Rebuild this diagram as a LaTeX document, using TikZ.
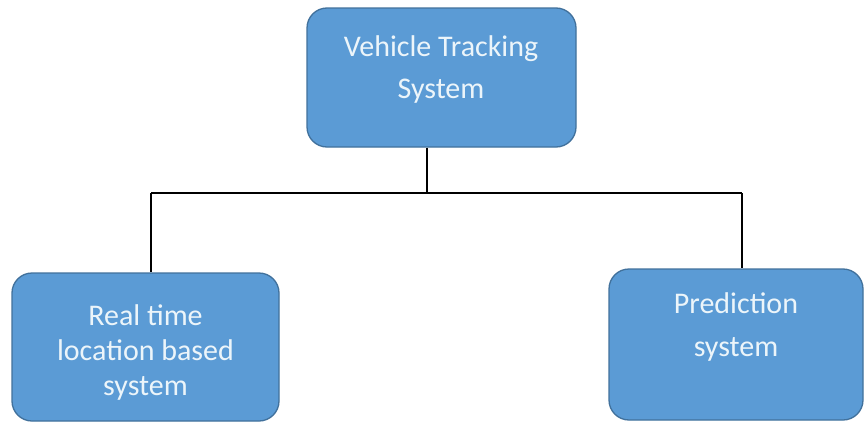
\documentclass[tikz,border=0pt]{standalone}
\usepackage{fontspec}
\setmainfont{Carlito}
\definecolor{boxfill}{RGB}{91,155,213}
\definecolor{boxline}{RGB}{65,113,156}
\definecolor{boxtext}{RGB}{236,245,250}
\begin{document}
\begin{tikzpicture}[x=1pt,y=-1pt,
  box/.style={draw=boxline, line width=1.3pt, fill=boxfill, rounded corners=20pt,
              inner sep=0pt},
  txt/.style={text=boxtext, align=center, inner sep=0pt,
              font=\fontsize{30}{42}\selectfont},
  link/.style={draw=black, line width=1.3pt}]
\useasboundingbox[fill=white] (0,0) rectangle (865,423);

% boxes
\node[box, minimum width=269pt, minimum height=139pt] (top) at (441.5,77.5) {};
\node[box, minimum width=267pt, minimum height=148pt] (left) at (145.5,347) {};
\node[box, minimum width=254pt, minimum height=151pt] (right) at (736,344.5) {};

% labels
\node[txt] (toptxt) at (441,70) {Vehicle Tracking\\System};
\node[txt, font=\fontsize{30}{35}\selectfont] (lefttxt) at (145.5,352) {Real time\\location based\\system};
\node[txt, font=\fontsize{30}{43}\selectfont] (righttxt) at (736,327) {Prediction\\system};

% connectors
\coordinate (jt) at (427,193);
\coordinate (jl) at (151,193);
\coordinate (jr) at (742,193);
\draw[link] (top.south -| jt) -- (jt);
\draw[link] (jl) -- (jr);
\draw[link] (jl) -- (jl |- left.north);
\draw[link] (jr) -- (jr |- right.north);
\end{tikzpicture}
\end{document}
